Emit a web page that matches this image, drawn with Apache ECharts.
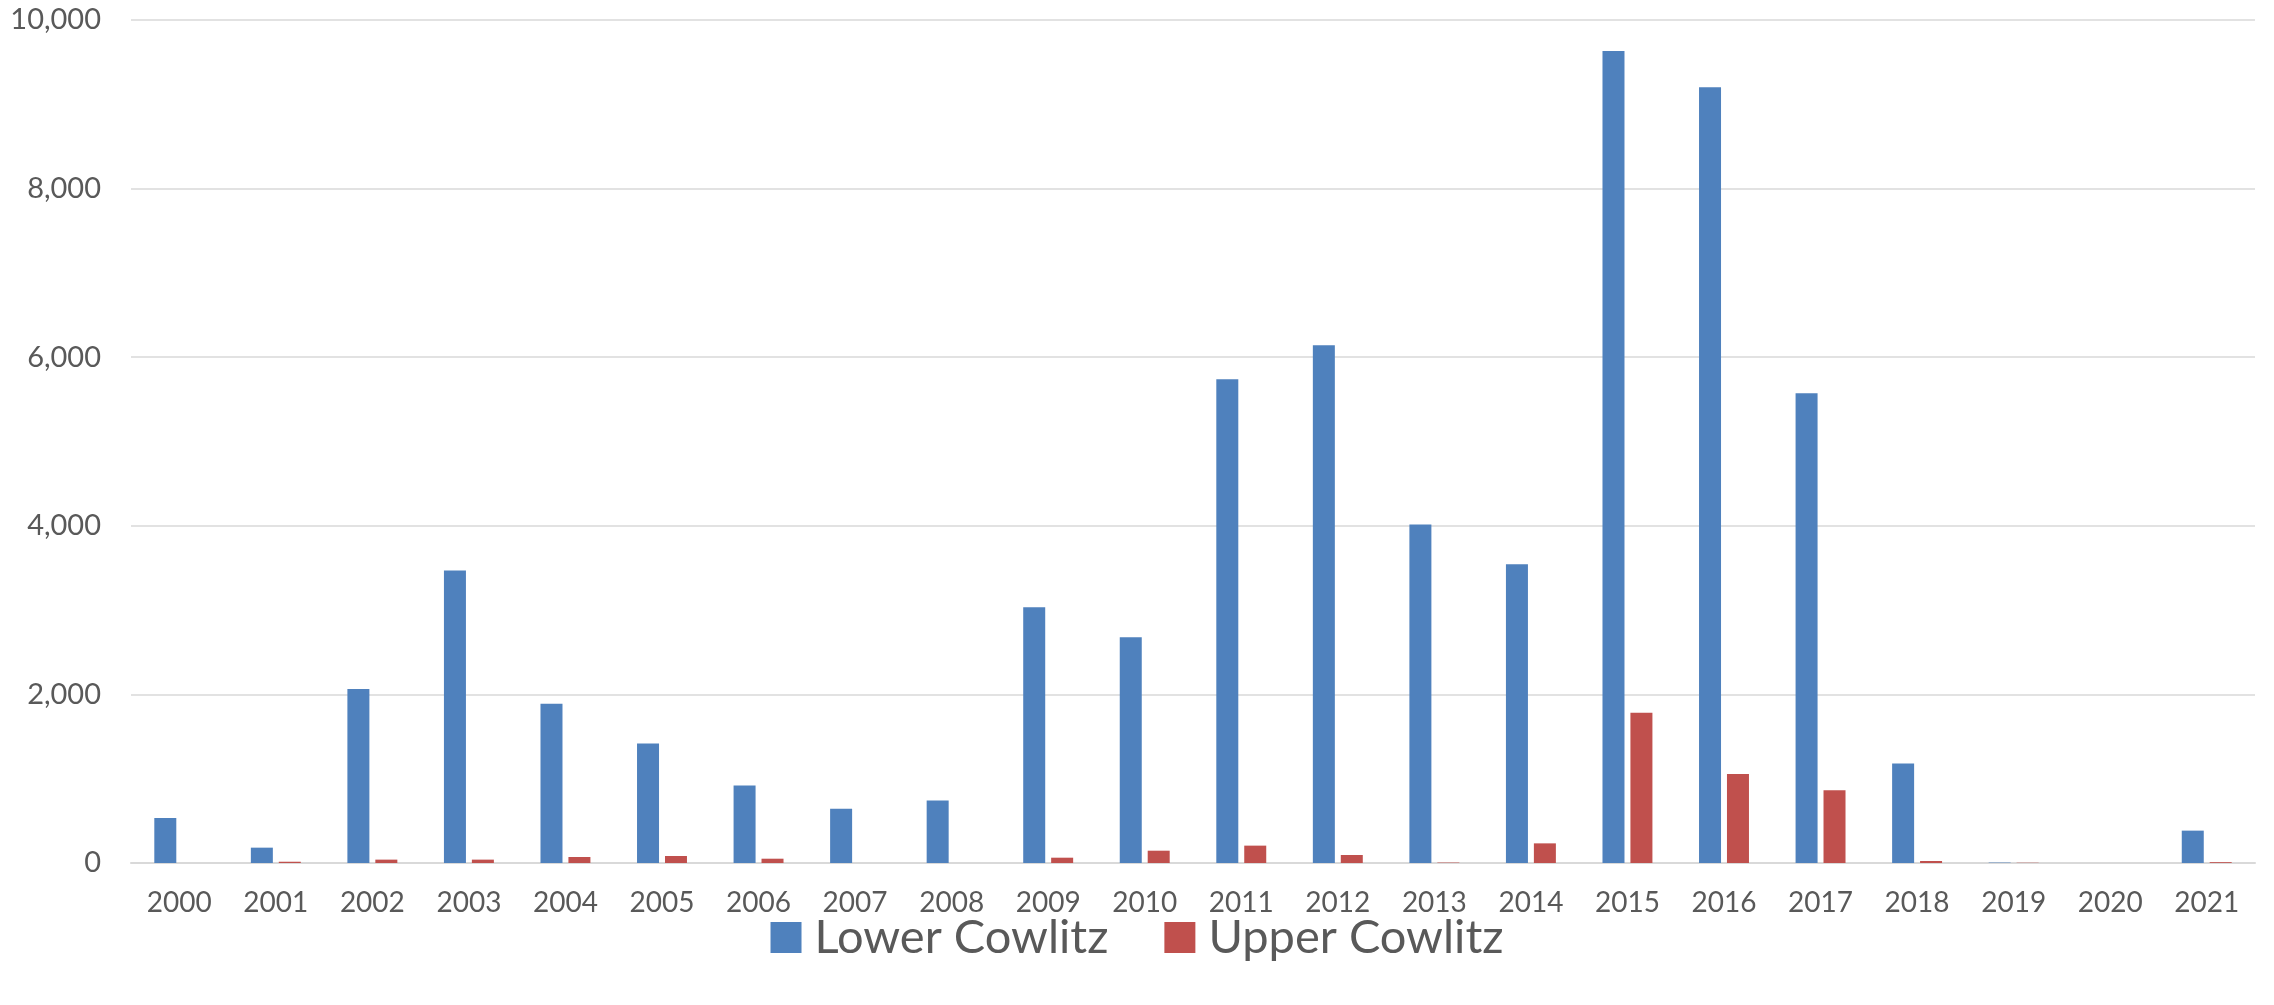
<!DOCTYPE html>
<html>
<head>
<meta charset="utf-8">
<script src="https://cdn.jsdelivr.net/npm/echarts@6/dist/echarts.min.js"></script>
<style>
html,body{margin:0;padding:0;background:#fff;}
#chart{width:2274px;height:1005px;}
</style>
</head>
<body>
<div id="chart"></div>
<script>
const years = ['2000','2001','2002','2003','2004','2005','2006','2007','2008','2009','2010','2011','2012','2013','2014','2015','2016','2017','2018','2019','2020','2021'];
const lowerCowlitz = [535,182,2063,3470,1889,1418,918,645,740,3033,2677,5739,6143,4016,3545,9631,9203,5573,1180,5,0,384];
const upperCowlitz = [0,15,40,40,71,83,51,0,0,63,146,206,95,5,233,1782,1057,863,24,3,0,10];
const yTicks = [0,2000,4000,6000,8000,10000];

const chart = echarts.init(document.getElementById('chart'), null, {renderer:'canvas'});
const font = 'Lato, "Open Sans", sans-serif';
chart.setOption({
  animation:false,
  backgroundColor:'#ffffff',
  grid:{left:131,right:19,top:20,bottom:142,containLabel:false},
  legend:{
    data:['Lower Cowlitz','Upper Cowlitz'],
    left:'center',
    top:909,
    itemWidth:31,
    itemHeight:31,
    itemGap:56,
    icon:'rect',
    textStyle:{fontFamily:font,fontSize:47,color:'#595959',padding:[0,0,0,8]}
  },
  xAxis:{
    type:'category',
    data:years,
    axisLine:{lineStyle:{color:'#d9d9d9',width:2}},
    axisTick:{show:false},
    axisLabel:{fontFamily:font,fontSize:28,color:'#595959',margin:26}
  },
  yAxis:{
    type:'value',
    min:yTicks[0],
    max:yTicks[yTicks.length-1],
    interval:2000,
    axisLine:{show:false},
    axisTick:{show:false},
    splitLine:{lineStyle:{color:'#d9d9d9',width:1.5}},
    axisLabel:{fontFamily:font,fontSize:29,color:'#595959',margin:30,
      formatter:v=>v.toLocaleString('en-US')}
  },
  series:[
    {name:'Lower Cowlitz',type:'bar',data:lowerCowlitz,barWidth:22,barGap:'27%',
     itemStyle:{color:'#4f81bd'}},
    {name:'Upper Cowlitz',type:'bar',data:upperCowlitz,barWidth:22,barGap:'27%',
     itemStyle:{color:'#c0504d'}}
  ]
});
</script>
</body>
</html>
